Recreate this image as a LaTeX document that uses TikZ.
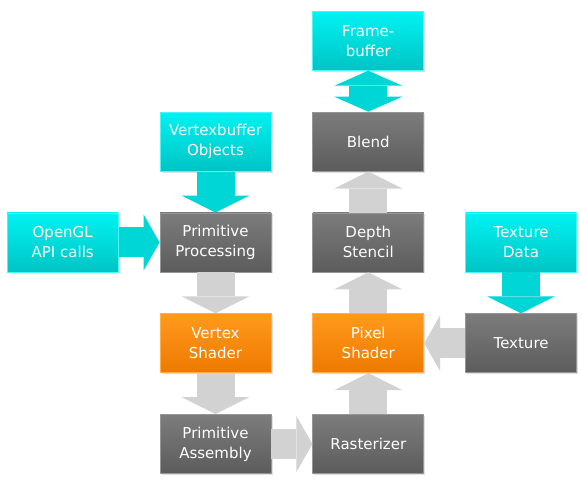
\documentclass[tikz,border=0pt]{standalone}
\usepackage{fontspec}
\setmainfont{DejaVu Sans}
\usetikzlibrary{arrows.meta,positioning,shadows}
\definecolor{tqtop}{HTML}{00F2F2}
\definecolor{tqbot}{HTML}{00C4C4}
\definecolor{tqarrow}{HTML}{00D6D6}
\definecolor{gytop}{HTML}{7C7C7C}
\definecolor{gybot}{HTML}{5C5C5C}
\definecolor{gyarrow}{HTML}{D2D2D2}
\definecolor{ortop}{HTML}{FF9A1C}
\definecolor{orbot}{HTML}{EE7A00}

\begin{document}
\begin{tikzpicture}[x=1pt,y=1pt,node distance=41pt]
\tikzset{
  box/.style={minimum width=111pt,minimum height=59pt,inner sep=2pt,align=center,text=white,
    font=\fontsize{15}{20}\selectfont,line width=0.8pt,
    drop shadow={opacity=0.25,shadow xshift=1.5pt,shadow yshift=-1.5pt}},
  tqbox/.style={box,top color=tqtop,bottom color=tqbot,draw=tqtop!70!white},
  gybox/.style={box,top color=gytop,bottom color=gybot,draw=gytop!80!white},
  orbox/.style={box,top color=ortop,bottom color=orbot,draw=ortop!80!white},
  vflow/.style={line width=38pt,-{Triangle[length=17pt,width=68pt,line width=0pt]}},
  hflow/.style={line width=30pt,-{Triangle[length=16pt,width=56pt,line width=0pt]}},
}
\useasboundingbox (0,0) rectangle (581,-491);
% left column
\node[gybox] (pa) at (215.5,-444) {Primitive\\Assembly};
\node[orbox,above=of pa] (vs) {Vertex\\Shader};
\node[gybox,above=of vs] (pp) {Primitive\\Processing};
\node[tqbox,above=of pp] (vbo) {Vertexbuffer\\Objects};
\node[tqbox,left=of pp] (ogl) {OpenGL\\API calls};
% right column
\node[gybox,right=of pa] (rast) {Rasterizer};
\node[orbox,above=of rast] (ps) {Pixel\\Shader};
\node[gybox,above=of ps] (ds) {Depth\\Stencil};
\node[gybox,above=of ds] (blend) {Blend};
\node[tqbox,above=of blend] (fb) {Frame-\\buffer};
\node[gybox,right=of ps] (tex) {Texture};
\node[tqbox,above=of tex] (texd) {Texture\\Data};
% flows
\draw[vflow,tqarrow] (vbo.south) -- (pp.north);
\draw[hflow,tqarrow] (ogl.east) -- (pp.west);
\draw[vflow,gyarrow] (pp.south) -- (vs.north);
\draw[vflow,gyarrow] (vs.south) -- (pa.north);
\draw[hflow,gyarrow] (pa.east) -- (rast.west);
\draw[vflow,gyarrow] (rast.north) -- (ps.south);
\draw[vflow,gyarrow] (ps.north) -- (ds.south);
\draw[vflow,gyarrow] (ds.north) -- (blend.south);
\draw[line width=38pt,tqarrow,{Triangle[length=15pt,width=68pt,line width=0pt]}-{Triangle[length=15pt,width=68pt,line width=0pt]}] (blend.north) -- (fb.south);
\draw[vflow,tqarrow] (texd.south) -- (tex.north);
\draw[hflow,gyarrow] (tex.west) -- (ps.east);
\end{tikzpicture}
\end{document}
